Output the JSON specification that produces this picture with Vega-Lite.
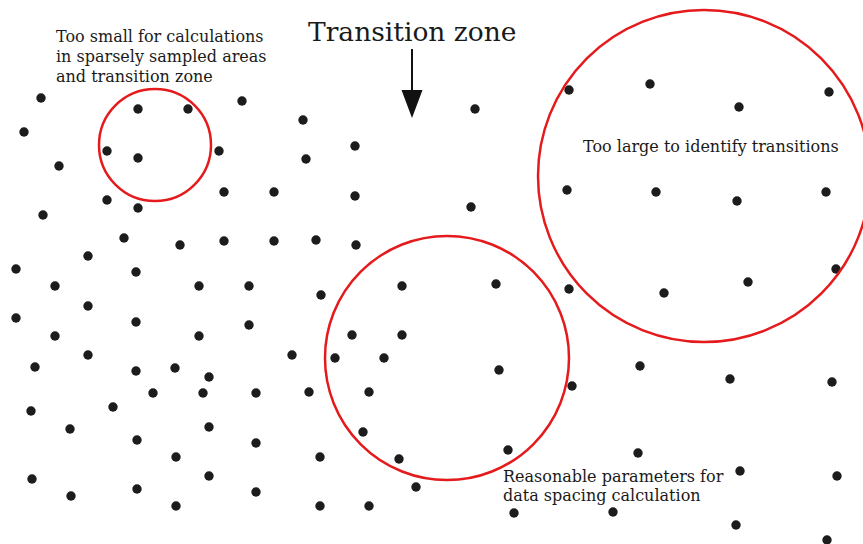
{
  "$schema": "https://vega.github.io/schema/vega-lite/v6.json",
  "width": 863,
  "height": 544,
  "autosize": "none",
  "padding": 0,
  "background": "white",
  "config": {"view": {"stroke": null}},
  "datasets": {
    "dots": [
      {"x":41,"y":98},{"x":24,"y":132},{"x":59,"y":166},{"x":43,"y":215},{"x":138,"y":109},{"x":188,"y":109},
      {"x":107,"y":151},{"x":138,"y":158},{"x":219,"y":151},{"x":242,"y":101},{"x":303,"y":120},{"x":306,"y":159},
      {"x":355,"y":146},{"x":475,"y":109},{"x":107,"y":200},{"x":138,"y":208},{"x":224,"y":192},{"x":274,"y":192},
      {"x":355,"y":196},{"x":471,"y":207},{"x":569,"y":90},{"x":650,"y":84},{"x":739,"y":107},{"x":829,"y":92},
      {"x":124,"y":238},{"x":180,"y":245},{"x":224,"y":241},{"x":274,"y":241},{"x":316,"y":240},{"x":356,"y":245},
      {"x":88,"y":256},{"x":16,"y":269},{"x":136,"y":272},{"x":55,"y":286},{"x":199,"y":286},{"x":249,"y":286},
      {"x":321,"y":295},{"x":402,"y":286},{"x":496,"y":284},{"x":569,"y":289},{"x":567,"y":190},{"x":656,"y":192},
      {"x":737,"y":201},{"x":826,"y":192},{"x":836,"y":269},{"x":748,"y":282},{"x":664,"y":293},
      {"x":16,"y":318},{"x":88,"y":306},{"x":136,"y":322},{"x":55,"y":336},{"x":199,"y":336},{"x":249,"y":325},
      {"x":292,"y":355},{"x":352,"y":335},{"x":402,"y":335},{"x":335,"y":358},{"x":384,"y":358},{"x":35,"y":367},
      {"x":88,"y":355},{"x":136,"y":371},{"x":175,"y":368},{"x":209,"y":377},{"x":153,"y":393},{"x":203,"y":393},
      {"x":256,"y":393},{"x":309,"y":392},{"x":369,"y":392},{"x":499,"y":370},{"x":572,"y":386},{"x":640,"y":366},
      {"x":730,"y":379},{"x":832,"y":382},
      {"x":31,"y":411},{"x":113,"y":407},{"x":70,"y":429},{"x":137,"y":440},{"x":209,"y":427},{"x":256,"y":443},
      {"x":363,"y":432},{"x":176,"y":457},{"x":320,"y":457},{"x":399,"y":459},{"x":508,"y":450},{"x":638,"y":453},
      {"x":740,"y":471},{"x":837,"y":476},
      {"x":32,"y":479},{"x":71,"y":496},{"x":137,"y":489},{"x":209,"y":476},{"x":256,"y":492},{"x":176,"y":506},
      {"x":320,"y":506},{"x":369,"y":506},{"x":416,"y":487},{"x":514,"y":513},{"x":613,"y":512},{"x":736,"y":525},
      {"x":827,"y":540}
    ],
    "rings": [
      {"x":155,"y":145,"r":56},
      {"x":447,"y":358,"r":122},
      {"x":704,"y":176,"r":166}
    ],
    "arrow": [{"x":412,"y":49,"y2":100}],
    "head": [{"x":412,"y":104}],
    "labels": [
      {"x":56,"y":42,"text":"Too small for calculations"},
      {"x":56,"y":62,"text":"in sparsely sampled areas"},
      {"x":56,"y":82,"text":"and transition zone"},
      {"x":583,"y":152,"text":"Too large to identify transitions"},
      {"x":503,"y":482,"text":"Reasonable parameters for"},
      {"x":503,"y":501,"text":"data spacing calculation"}
    ],
    "title": [{"x":308,"y":41,"text":"Transition zone"}]
  },
  "encoding": {
    "x": {"field": "x", "type": "quantitative", "scale": {"domain": [0, 863], "nice": false, "zero": false}, "axis": null},
    "y": {"field": "y", "type": "quantitative", "scale": {"domain": [0, 544], "nice": false, "zero": false, "reverse": true}, "axis": null}
  },
  "layer": [
    {
      "data": {"name": "dots"},
      "mark": {"type": "point", "shape": "circle", "filled": true, "size": 88, "color": "#1c1c1c", "opacity": 1}
    },
    {
      "data": {"name": "rings"},
      "mark": {"type": "point", "shape": "circle", "filled": false, "color": "#e41a1c", "strokeWidth": 2.5, "opacity": 1},
      "encoding": {
        "size": {"field": "r", "type": "quantitative", "scale": {"type": "pow", "exponent": 2, "domain": [0, 200], "range": [0, 160000]}, "legend": null}
      }
    },
    {
      "data": {"name": "arrow"},
      "mark": {"type": "rule", "color": "#111111", "strokeWidth": 2},
      "encoding": {"y2": {"field": "y2"}}
    },
    {
      "data": {"name": "head"},
      "mark": {"type": "point", "shape": "M-0.75,-1L0.75,-1L0,1Z", "filled": true, "size": 784, "color": "#111111", "opacity": 1}
    },
    {
      "data": {"name": "labels"},
      "mark": {"type": "text", "align": "left", "baseline": "alphabetic", "font": "DejaVu Serif", "fontSize": 16, "color": "#1a1a1a"},
      "encoding": {"text": {"field": "text"}}
    },
    {
      "data": {"name": "title"},
      "mark": {"type": "text", "align": "left", "baseline": "alphabetic", "font": "DejaVu Serif", "fontSize": 26.5, "color": "#1a1a1a"},
      "encoding": {"text": {"field": "text"}}
    }
  ]
}
